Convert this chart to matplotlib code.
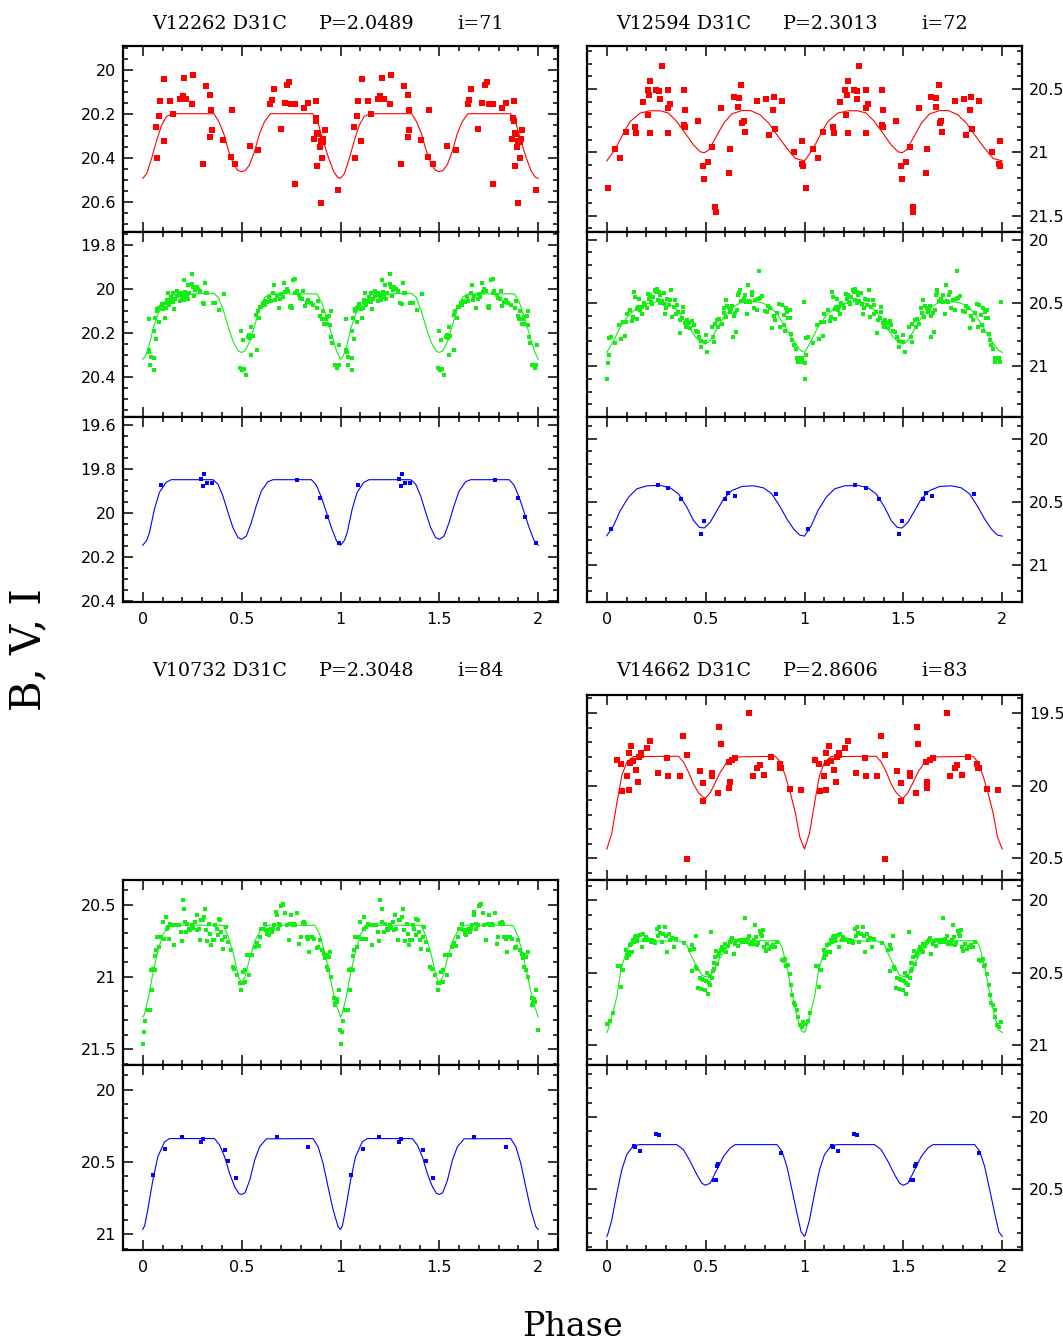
import numpy as np
import matplotlib
matplotlib.use('Agg')
import matplotlib.pyplot as plt
from matplotlib.ticker import MultipleLocator, FuncFormatter

# ---- light curve data: (phase, mag), phase in [0,1) ----
# V12262  P=2.0489  i=71
v12262_b_pts = [(0.067, 20.258), (0.074, 20.40), (0.081, 20.208), (0.087, 20.139), (0.105, 20.324),
                (0.108, 20.041), (0.137, 20.139), (0.153, 20.20), (0.19, 20.129), (0.202, 20.118),
                (0.209, 20.036), (0.218, 20.132), (0.249, 20.153), (0.255, 20.023), (0.307, 20.426),
                (0.321, 20.07), (0.339, 20.115), (0.341, 20.305), (0.345, 20.182), (0.348, 20.274),
                (0.406, 20.317), (0.444, 20.397), (0.449, 20.179), (0.466, 20.426), (0.54, 20.347),
                (0.583, 20.365), (0.644, 20.153), (0.652, 20.136), (0.662, 20.086), (0.697, 20.267),
                (0.718, 20.148), (0.731, 20.068), (0.742, 20.055), (0.749, 20.152), (0.769, 20.153),
                (0.769, 20.518), (0.816, 20.17), (0.838, 20.148), (0.866, 20.314), (0.877, 20.138),
                (0.874, 20.218), (0.876, 20.233), (0.88, 20.285), (0.881, 20.436), (0.888, 20.288),
                (0.895, 20.35), (0.90, 20.606), (0.90, 20.32), (0.908, 20.40), (0.91, 20.326),
                (0.913, 20.313), (0.92, 20.27), (0.987, 20.545)]
v12262_b_curve = [(0, 20.492), (0.02, 20.47), (0.045, 20.40), (0.07, 20.32), (0.095, 20.25), (0.12, 20.21),
                  (0.15, 20.198), (0.36, 20.198), (0.385, 20.235), (0.41, 20.29), (0.435, 20.37),
                  (0.46, 20.43), (0.48, 20.455), (0.5, 20.462), (0.52, 20.455), (0.54, 20.43),
                  (0.565, 20.37), (0.59, 20.29), (0.615, 20.235), (0.645, 20.198), (0.86, 20.198),
                  (0.885, 20.235), (0.91, 20.315), (0.94, 20.40), (0.965, 20.46), (0.985, 20.487),
                  (1.0, 20.492)]
v12262_v_pts = [(0.030, 20.137), (0.030, 20.274), (0.034, 20.286), (0.039, 20.343), (0.040, 20.307),
                (0.056, 20.31), (0.059, 20.365), (0.057, 20.188), (0.067, 20.226), (0.062, 20.131),
                (0.071, 20.097), (0.074, 20.091), (0.081, 20.15), (0.084, 20.085), (0.091, 20.079),
                (0.096, 20.067), (0.104, 20.09), (0.11, 20.131), (0.115, 20.085), (0.118, 20.061),
                (0.121, 20.049), (0.126, 20.017), (0.131, 20.07), (0.138, 20.055), (0.145, 20.036),
                (0.152, 20.058), (0.155, 20.018), (0.16, 20.088), (0.165, 20.043), (0.172, 20.03),
                (0.175, 20.006), (0.182, 20.021), (0.189, 20.055), (0.192, 20.015), (0.199, 20.043),
                (0.202, 20.027), (0.206, 20.049), (0.209, 19.96), (0.214, 20.014), (0.219, 20.036),
                (0.222, 20.024), (0.227, 19.982), (0.231, 20.046), (0.236, 20.018), (0.248, 19.93),
                (0.251, 19.976), (0.256, 19.991), (0.261, 20.03), (0.266, 20.003), (0.273, 19.988),
                (0.281, 19.998), (0.29, 20.006), (0.303, 20.061), (0.31, 20.067), (0.317, 19.97),
                (0.32, 20.015), (0.327, 20.015), (0.354, 20.064), (0.367, 20.064), (0.388, 20.093),
                (0.413, 20.021), (0.499, 20.191), (0.492, 20.359), (0.504, 20.368), (0.512, 20.362),
                (0.509, 20.231), (0.521, 20.39), (0.532, 20.216), (0.539, 20.207), (0.543, 20.222),
                (0.549, 20.17), (0.549, 20.298), (0.556, 20.213), (0.576, 20.277), (0.573, 20.115),
                (0.581, 20.1), (0.59, 20.131), (0.593, 20.079), (0.6, 20.079), (0.61, 20.061),
                (0.617, 20.07), (0.62, 20.052), (0.63, 20.058), (0.64, 20.036), (0.647, 20.055),
                (0.66, 20.018), (0.664, 19.979), (0.671, 20.049), (0.677, 20.03), (0.687, 20.085),
                (0.694, 20.046), (0.701, 20.021), (0.708, 20.036), (0.714, 19.973), (0.719, 20.012),
                (0.728, 20.0), (0.735, 20.009), (0.745, 20.082), (0.751, 20.076), (0.753, 20.085),
                (0.762, 19.96), (0.77, 19.953), (0.772, 20.015), (0.778, 20.006), (0.792, 20.024),
                (0.795, 20.04), (0.805, 20.043), (0.812, 20.006), (0.819, 20.076), (0.829, 20.058),
                (0.837, 20.049), (0.849, 20.064), (0.863, 20.073), (0.88, 20.085), (0.888, 20.052),
                (0.896, 20.122), (0.905, 20.137), (0.91, 20.097), (0.917, 20.158), (0.922, 20.137),
                (0.93, 20.125), (0.93, 20.158), (0.944, 20.122), (0.947, 20.161), (0.953, 20.219),
                (0.95, 20.1), (0.957, 20.243), (0.971, 20.346), (0.974, 20.343), (0.984, 20.359),
                (0.991, 20.343), (0.994, 20.252)]
v12262_v_curve = [(0, 20.318), (0.015, 20.30), (0.03, 20.264), (0.054, 20.173), (0.08, 20.105), (0.12, 20.06),
                  (0.17, 20.036), (0.256, 20.021), (0.357, 20.018), (0.382, 20.036), (0.408, 20.097),
                  (0.433, 20.173), (0.458, 20.24), (0.483, 20.28), (0.5, 20.287), (0.517, 20.28),
                  (0.543, 20.234), (0.568, 20.158), (0.593, 20.082), (0.618, 20.036), (0.644, 20.021),
                  (0.88, 20.021), (0.905, 20.06), (0.93, 20.128), (0.955, 20.204), (0.98, 20.28),
                  (1.0, 20.318)]
v12262_i_pts = [(0.091, 19.875), (0.294, 19.848), (0.307, 19.879), (0.311, 19.822), (0.324, 19.866),
                (0.351, 19.866), (0.779, 19.852), (0.897, 19.93), (0.934, 20.02), (0.991, 20.135)]
v12262_i_curve = [(0, 20.147), (0.02, 20.125), (0.034, 20.089), (0.059, 19.983), (0.084, 19.907),
                  (0.118, 19.861), (0.144, 19.849), (0.355, 19.849), (0.38, 19.869), (0.405, 19.922),
                  (0.431, 19.998), (0.456, 20.067), (0.481, 20.112), (0.5, 20.12), (0.524, 20.105),
                  (0.549, 20.044), (0.574, 19.968), (0.6, 19.9), (0.633, 19.858), (0.659, 19.849),
                  (0.853, 19.849), (0.878, 19.874), (0.904, 19.93), (0.929, 19.998), (0.954, 20.067),
                  (0.98, 20.127), (1.0, 20.147)]

# V12594  P=2.3013  i=72
v12594_b_pts = [(0.008, 21.283), (0.042, 20.977), (0.068, 21.046), (0.096, 20.842), (0.142, 20.797),
                (0.147, 20.85), (0.181, 20.606), (0.206, 20.511), (0.209, 20.707), (0.214, 20.548),
                (0.219, 20.439), (0.221, 20.845), (0.25, 20.505), (0.265, 20.513), (0.267, 20.577),
                (0.278, 20.317), (0.309, 20.845), (0.312, 20.651), (0.312, 20.511), (0.321, 20.619),
                (0.393, 20.511), (0.397, 20.662), (0.393, 20.786), (0.397, 20.80), (0.461, 20.752),
                (0.486, 21.107), (0.493, 21.208), (0.511, 21.076), (0.532, 20.962), (0.549, 21.434),
                (0.55, 21.473), (0.577, 20.651), (0.616, 21.166), (0.621, 20.977), (0.641, 20.564),
                (0.667, 20.572), (0.663, 20.646), (0.68, 20.466), (0.684, 20.765), (0.692, 20.749),
                (0.697, 20.837), (0.759, 20.593), (0.807, 20.58), (0.819, 20.861), (0.839, 20.664),
                (0.844, 20.561), (0.849, 20.813), (0.884, 20.598), (0.949, 21.0), (0.987, 20.914),
                (0.986, 21.092), (0.99, 21.11)]
v12594_b_curve = [(0, 21.068), (0.042, 20.977), (0.084, 20.85), (0.118, 20.757), (0.169, 20.69),
                  (0.219, 20.672), (0.27, 20.672), (0.312, 20.69), (0.354, 20.757), (0.397, 20.85),
                  (0.439, 20.943), (0.473, 20.996), (0.493, 21.004), (0.515, 20.983), (0.549, 20.89),
                  (0.591, 20.77), (0.633, 20.696), (0.684, 20.67), (0.726, 20.67), (0.776, 20.704),
                  (0.819, 20.77), (0.861, 20.863), (0.911, 20.969), (0.954, 21.049), (1.0, 21.068)]
v12594_v_pts = [(0.0, 21.098), (0.005, 20.971), (0.01, 20.912), (0.01, 20.777), (0.02, 20.766),
                (0.042, 20.819), (0.064, 20.67), (0.071, 20.782), (0.084, 20.654), (0.093, 20.761),
                (0.098, 20.654), (0.101, 20.585), (0.118, 20.559), (0.127, 20.644), (0.135, 20.612),
                (0.14, 20.415), (0.142, 20.452), (0.152, 20.548), (0.155, 20.625), (0.16, 20.532),
                (0.165, 20.465), (0.169, 20.559), (0.176, 20.532), (0.179, 20.59), (0.186, 20.50),
                (0.194, 20.516), (0.201, 20.537), (0.211, 20.426), (0.214, 20.465), (0.219, 20.441),
                (0.223, 20.489), (0.23, 20.511), (0.236, 20.452), (0.243, 20.399), (0.248, 20.412),
                (0.253, 20.386), (0.257, 20.479), (0.263, 20.415), (0.267, 20.50), (0.27, 20.439),
                (0.278, 20.484), (0.287, 20.42), (0.29, 20.505), (0.295, 20.585), (0.3, 20.537),
                (0.307, 20.471), (0.314, 20.519), (0.321, 20.479), (0.327, 20.399), (0.331, 20.612),
                (0.338, 20.532), (0.344, 20.479), (0.351, 20.585), (0.354, 20.516), (0.361, 20.572),
                (0.368, 20.739), (0.371, 20.638), (0.38, 20.617), (0.385, 20.532), (0.388, 20.572),
                (0.397, 20.66), (0.402, 20.691), (0.405, 20.638), (0.408, 20.681), (0.415, 20.66),
                (0.422, 20.697), (0.432, 20.644), (0.439, 20.676), (0.449, 20.718), (0.456, 20.729),
                (0.459, 20.729), (0.466, 20.771), (0.478, 20.851), (0.476, 20.798), (0.498, 20.811),
                (0.5, 20.75), (0.506, 20.888), (0.53, 20.691), (0.537, 20.766), (0.543, 20.809),
                (0.545, 20.665), (0.557, 20.633), (0.564, 20.691), (0.57, 20.625), (0.581, 20.665),
                (0.591, 20.543), (0.594, 20.58), (0.601, 20.473), (0.604, 20.612), (0.608, 20.521),
                (0.618, 20.537), (0.624, 20.574), (0.63, 20.548), (0.635, 20.521), (0.638, 20.766),
                (0.641, 20.601), (0.648, 20.58), (0.655, 20.729), (0.658, 20.553), (0.665, 20.436),
                (0.668, 20.42), (0.672, 20.399), (0.678, 20.484), (0.685, 20.484), (0.692, 20.465),
                (0.699, 20.441), (0.702, 20.489), (0.709, 20.59), (0.714, 20.356), (0.719, 20.484),
                (0.726, 20.495), (0.732, 20.441), (0.736, 20.415), (0.743, 20.537), (0.749, 20.479),
                (0.759, 20.553), (0.766, 20.468), (0.771, 20.245), (0.776, 20.457), (0.785, 20.447),
                (0.802, 20.564), (0.81, 20.569), (0.817, 20.527), (0.827, 20.537), (0.835, 20.697),
                (0.844, 20.601), (0.851, 20.638), (0.861, 20.58), (0.871, 20.511), (0.878, 20.686),
                (0.884, 20.516), (0.895, 20.596), (0.898, 20.67), (0.901, 20.718), (0.905, 20.543),
                (0.911, 20.569), (0.918, 20.622), (0.925, 20.559), (0.928, 20.622), (0.932, 20.745),
                (0.938, 20.793), (0.945, 20.83), (0.955, 20.864), (0.962, 20.936), (0.965, 20.968),
                (0.972, 20.931), (0.979, 20.936), (0.986, 20.931), (0.989, 20.968), (0.995, 20.495)]
v12594_v_curve = [(0, 20.891), (0.034, 20.80), (0.068, 20.69), (0.11, 20.60), (0.152, 20.537), (0.203, 20.505),
                  (0.253, 20.489), (0.295, 20.495), (0.338, 20.527), (0.371, 20.585), (0.405, 20.665),
                  (0.447, 20.766), (0.476, 20.811), (0.5, 20.824), (0.523, 20.798), (0.557, 20.705),
                  (0.591, 20.612), (0.633, 20.537), (0.675, 20.50), (0.726, 20.489), (0.776, 20.495),
                  (0.819, 20.519), (0.861, 20.585), (0.903, 20.691), (0.945, 20.798), (0.979, 20.872),
                  (1.0, 20.891)]
v12594_i_pts = [(0.02, 20.714), (0.257, 20.368), (0.311, 20.392), (0.376, 20.474), (0.478, 20.757),
                (0.493, 20.651), (0.597, 20.481), (0.614, 20.431), (0.646, 20.452), (0.857, 20.437)]
v12594_i_curve = [(0, 20.767), (0.034, 20.688), (0.068, 20.569), (0.11, 20.463), (0.152, 20.397),
                  (0.203, 20.373), (0.27, 20.37), (0.321, 20.389), (0.363, 20.437), (0.405, 20.542),
                  (0.439, 20.648), (0.469, 20.701), (0.493, 20.706), (0.523, 20.661), (0.557, 20.569),
                  (0.591, 20.476), (0.633, 20.41), (0.684, 20.378), (0.743, 20.373), (0.793, 20.389),
                  (0.835, 20.437), (0.878, 20.542), (0.911, 20.635), (0.945, 20.714), (0.976, 20.762),
                  (1.0, 20.77)]

# V10732  P=2.3048  i=84  (no B data)
v10732_v_pts = [(0.0, 21.463), (0.007, 21.382), (0.013, 21.306), (0.024, 21.227), (0.037, 21.227),
                (0.047, 21.089), (0.044, 20.955), (0.054, 20.946), (0.062, 20.95), (0.064, 20.853),
                (0.067, 20.816), (0.074, 20.724), (0.084, 20.793), (0.094, 20.724), (0.101, 20.62),
                (0.108, 20.736), (0.118, 20.585), (0.121, 20.666), (0.128, 20.655), (0.131, 20.736),
                (0.138, 20.632), (0.145, 20.643), (0.158, 20.782), (0.165, 20.643), (0.182, 20.643),
                (0.192, 20.689), (0.197, 20.752), (0.202, 20.47), (0.209, 20.528), (0.212, 20.62),
                (0.219, 20.689), (0.226, 20.632), (0.233, 20.666), (0.239, 20.678), (0.248, 20.643),
                (0.256, 20.659), (0.265, 20.62), (0.273, 20.678), (0.276, 20.574), (0.283, 20.666),
                (0.29, 20.747), (0.297, 20.604), (0.303, 20.609), (0.31, 20.585), (0.317, 20.528),
                (0.32, 20.678), (0.327, 20.752), (0.334, 20.632), (0.34, 20.701), (0.347, 20.782),
                (0.354, 20.742), (0.361, 20.747), (0.367, 20.643), (0.374, 20.666), (0.381, 20.712),
                (0.384, 20.597), (0.391, 20.604), (0.398, 20.689), (0.401, 20.747), (0.408, 20.805),
                (0.418, 20.724), (0.421, 20.655), (0.433, 20.759), (0.445, 20.816), (0.455, 20.932),
                (0.462, 20.943), (0.479, 20.99), (0.492, 21.043), (0.495, 21.089), (0.505, 21.043),
                (0.516, 21.036), (0.509, 20.967), (0.519, 20.955), (0.526, 20.851), (0.539, 20.99),
                (0.543, 20.851), (0.553, 20.851), (0.566, 20.793), (0.576, 20.766), (0.586, 20.789),
                (0.593, 20.724), (0.6, 20.666), (0.61, 20.666), (0.617, 20.632), (0.623, 20.678),
                (0.63, 20.701), (0.637, 20.712), (0.64, 20.678), (0.647, 20.666), (0.654, 20.689),
                (0.66, 20.666), (0.664, 20.643), (0.674, 20.551), (0.677, 20.574), (0.684, 20.666),
                (0.687, 20.632), (0.694, 20.643), (0.701, 20.512), (0.708, 20.5), (0.711, 20.493),
                (0.721, 20.555), (0.728, 20.643), (0.738, 20.747), (0.745, 20.632), (0.751, 20.574),
                (0.758, 20.643), (0.765, 20.632), (0.772, 20.643), (0.782, 20.555), (0.789, 20.77),
                (0.799, 20.724), (0.809, 20.627), (0.816, 20.62), (0.822, 20.632), (0.829, 20.724),
                (0.836, 20.736), (0.843, 20.828), (0.846, 20.724), (0.856, 20.724), (0.866, 20.736),
                (0.88, 20.798), (0.888, 20.793), (0.896, 20.747), (0.906, 20.816), (0.917, 20.84),
                (0.923, 20.867), (0.93, 20.851), (0.94, 20.863), (0.947, 20.828), (0.93, 20.932),
                (0.937, 20.955), (0.95, 21.0), (0.968, 21.144), (0.97, 21.197), (0.974, 21.181),
                (0.98, 21.151), (0.984, 21.174), (0.991, 21.094), (0.997, 21.366)]
v10732_v_curve = [(0, 21.278), (0.008, 21.26), (0.029, 21.14), (0.054, 20.955), (0.079, 20.805), (0.104, 20.70),
                  (0.13, 20.655), (0.163, 20.643), (0.408, 20.643), (0.433, 20.724), (0.458, 20.84),
                  (0.484, 21.0), (0.5, 21.043), (0.517, 21.0), (0.543, 20.863), (0.568, 20.747),
                  (0.601, 20.666), (0.635, 20.643), (0.871, 20.643), (0.896, 20.712), (0.922, 20.84),
                  (0.947, 21.0), (0.972, 21.163), (1.0, 21.278)]
v10732_i_pts = [(0.052, 20.59), (0.113, 20.408), (0.196, 20.327), (0.294, 20.362), (0.307, 20.343),
                (0.417, 20.419), (0.432, 20.491), (0.47, 20.613), (0.677, 20.325), (0.836, 20.399)]
v10732_i_curve = [(0, 20.968), (0.01, 20.94), (0.025, 20.834), (0.051, 20.627), (0.076, 20.465), (0.11, 20.362),
                  (0.135, 20.339), (0.363, 20.339), (0.389, 20.385), (0.414, 20.465), (0.439, 20.581),
                  (0.465, 20.673), (0.486, 20.719), (0.5, 20.726), (0.517, 20.714), (0.541, 20.627),
                  (0.566, 20.488), (0.591, 20.396), (0.625, 20.341), (0.861, 20.339), (0.887, 20.396),
                  (0.912, 20.512), (0.937, 20.673), (0.963, 20.834), (0.988, 20.949), (1.0, 20.968)]

# V14662  P=2.8606  i=83
v14662_b_pts = [(0.054, 19.822), (0.074, 19.852), (0.078, 20.038), (0.101, 19.932), (0.11, 20.031),
                (0.11, 19.775), (0.115, 19.843), (0.123, 19.725), (0.135, 19.829), (0.15, 19.892),
                (0.16, 19.972), (0.165, 19.803), (0.174, 19.775), (0.175, 19.791), (0.204, 19.739),
                (0.221, 19.69), (0.258, 19.915), (0.307, 19.808), (0.312, 19.937), (0.368, 19.937),
                (0.386, 19.655), (0.407, 19.786), (0.408, 19.791), (0.408, 20.507), (0.469, 19.901),
                (0.489, 19.979), (0.489, 20.103), (0.532, 19.913), (0.532, 19.937), (0.564, 20.054),
                (0.57, 19.599), (0.576, 19.711), (0.618, 20.014), (0.621, 19.974), (0.616, 19.838),
                (0.633, 19.826), (0.65, 19.808), (0.721, 19.502), (0.738, 19.937), (0.761, 19.878),
                (0.773, 19.859), (0.797, 19.925), (0.829, 19.803), (0.874, 19.85), (0.877, 19.878),
                (0.883, 19.88), (0.925, 20.021), (0.981, 20.031)]
v14662_b_curve = [(0, 20.437), (0.025, 20.33), (0.051, 20.12), (0.076, 19.93), (0.101, 19.84), (0.135, 19.8),
                  (0.363, 19.798), (0.388, 19.838), (0.414, 19.908), (0.439, 19.991), (0.464, 20.049),
                  (0.489, 20.082), (0.5, 20.085), (0.523, 20.049), (0.549, 19.979), (0.574, 19.908),
                  (0.608, 19.838), (0.641, 19.803), (0.852, 19.798), (0.878, 19.838), (0.903, 19.932),
                  (0.928, 20.049), (0.954, 20.19), (0.976, 20.354), (1.0, 20.437)]
v14662_v_pts = [(0.003, 20.859), (0.017, 20.834), (0.03, 20.779), (0.057, 20.456), (0.068, 20.454),
                (0.073, 20.601), (0.078, 20.484), (0.084, 20.484), (0.098, 20.346), (0.101, 20.403),
                (0.105, 20.373), (0.11, 20.382), (0.115, 20.311), (0.118, 20.357), (0.122, 20.30),
                (0.128, 20.359), (0.132, 20.272), (0.138, 20.288), (0.142, 20.253), (0.149, 20.244),
                (0.152, 20.281), (0.155, 20.265), (0.16, 20.249), (0.169, 20.242), (0.176, 20.327),
                (0.182, 20.235), (0.189, 20.276), (0.196, 20.253), (0.203, 20.265), (0.209, 20.276),
                (0.216, 20.272), (0.223, 20.286), (0.23, 20.272), (0.24, 20.281), (0.246, 20.295),
                (0.253, 20.196), (0.26, 20.244), (0.263, 20.184), (0.27, 20.23), (0.277, 20.29),
                (0.284, 20.235), (0.297, 20.184), (0.3, 20.249), (0.307, 20.355), (0.314, 20.235),
                (0.321, 20.276), (0.331, 20.258), (0.341, 20.327), (0.351, 20.265), (0.392, 20.295),
                (0.422, 20.346), (0.432, 20.313), (0.439, 20.336), (0.449, 20.244), (0.43, 20.488),
                (0.452, 20.461), (0.456, 20.475), (0.462, 20.604), (0.469, 20.535), (0.476, 20.613),
                (0.483, 20.544), (0.489, 20.553), (0.498, 20.622), (0.503, 20.558), (0.506, 20.502),
                (0.511, 20.65), (0.515, 20.576), (0.52, 20.525), (0.523, 20.588), (0.527, 20.219),
                (0.532, 20.535), (0.537, 20.493), (0.54, 20.433), (0.543, 20.475), (0.549, 20.396),
                (0.554, 20.35), (0.557, 20.442), (0.564, 20.387), (0.57, 20.364), (0.577, 20.346),
                (0.584, 20.323), (0.591, 20.336), (0.597, 20.30), (0.601, 20.357), (0.611, 20.318),
                (0.621, 20.29), (0.628, 20.276), (0.635, 20.258), (0.641, 20.369), (0.648, 20.304),
                (0.655, 20.281), (0.665, 20.318), (0.672, 20.272), (0.678, 20.281), (0.685, 20.29),
                (0.692, 20.276), (0.699, 20.122), (0.705, 20.286), (0.712, 20.267), (0.719, 20.249),
                (0.726, 20.304), (0.732, 20.286), (0.739, 20.30), (0.746, 20.272), (0.749, 20.173),
                (0.756, 20.253), (0.76, 20.311), (0.766, 20.295), (0.776, 20.212), (0.78, 20.235),
                (0.786, 20.249), (0.79, 20.207), (0.797, 20.323), (0.803, 20.35), (0.81, 20.304),
                (0.82, 20.336), (0.83, 20.327), (0.84, 20.313), (0.851, 20.323), (0.861, 20.288),
                (0.884, 20.415), (0.895, 20.419), (0.901, 20.41), (0.908, 20.452), (0.915, 20.449),
                (0.925, 20.512), (0.932, 20.588), (0.938, 20.659), (0.945, 20.71), (0.952, 20.728),
                (0.962, 20.76), (0.965, 20.806), (0.976, 20.866), (0.986, 20.876), (0.992, 20.843)]
v14662_v_curve = [(0, 20.915), (0.005, 20.903), (0.025, 20.806), (0.051, 20.668), (0.071, 20.484),
                  (0.101, 20.346), (0.135, 20.288), (0.177, 20.281), (0.371, 20.283), (0.405, 20.311),
                  (0.43, 20.392), (0.456, 20.461), (0.481, 20.518), (0.503, 20.53), (0.532, 20.507),
                  (0.557, 20.438), (0.591, 20.357), (0.633, 20.288), (0.658, 20.281), (0.869, 20.281),
                  (0.886, 20.323), (0.911, 20.461), (0.937, 20.645), (0.962, 20.806), (0.983, 20.899),
                  (1.0, 20.915)]
v14662_i_pts = [(0.14, 20.202), (0.143, 20.207), (0.169, 20.237), (0.25, 20.116), (0.263, 20.123),
                (0.54, 20.435), (0.55, 20.435), (0.557, 20.337), (0.562, 20.323), (0.883, 20.251)]
v14662_i_curve = [(0, 20.826), (0.005, 20.812), (0.025, 20.714), (0.051, 20.528), (0.076, 20.365),
                  (0.101, 20.26), (0.135, 20.198), (0.169, 20.191), (0.354, 20.191), (0.388, 20.226),
                  (0.422, 20.307), (0.456, 20.40), (0.481, 20.458), (0.498, 20.472), (0.523, 20.458),
                  (0.557, 20.365), (0.591, 20.272), (0.624, 20.214), (0.65, 20.191), (0.861, 20.191),
                  (0.886, 20.237), (0.911, 20.342), (0.937, 20.505), (0.962, 20.667), (0.983, 20.795),
                  (1.0, 20.826)]

titles = [("V12262 D31C", "P=2.0489", "i=71"), ("V12594 D31C", "P=2.3013", "i=72"),
          ("V10732 D31C", "P=2.3048", "i=84"), ("V14662 D31C", "P=2.8606", "i=83")]

RED, GREEN, BLUE = '#ff0000', '#10f010', '#0000ff'

W, H = 1063, 1344
fig = plt.figure(figsize=(W / 100, H / 100), dpi=100)


def px_axes(x0, y0, x1, y1):
    # axes from pixel box (top-left origin)
    return fig.add_axes([x0 / W, 1 - y1 / H, (x1 - x0) / W, (y1 - y0) / H])


def fmt(v, pos):
    return '%g' % round(v, 3)


def draw_panel(box, pts, curve, color, ms, ylim, major, minor, side, xlabels):
    ax = px_axes(*box)
    ph, mag = np.array(pts).T
    ax.plot(np.concatenate([ph, ph + 1]), np.concatenate([mag, mag]), 's',
            color=color, ms=ms, mew=0, zorder=3)
    cph, cmag = np.array(curve).T
    ax.plot(np.concatenate([cph, cph[1:] + 1]), np.concatenate([cmag, cmag[1:]]),
            '-', color=color, lw=0.8, zorder=2)
    ax.set_xlim(-0.1, 2.1)
    ax.set_ylim(*ylim)
    ax.xaxis.set_major_locator(MultipleLocator(0.5))
    ax.xaxis.set_minor_locator(MultipleLocator(0.1))
    ax.yaxis.set_major_locator(MultipleLocator(major))
    ax.yaxis.set_minor_locator(MultipleLocator(minor))
    ax.xaxis.set_major_formatter(FuncFormatter(fmt))
    ax.yaxis.set_major_formatter(FuncFormatter(fmt))
    ax.tick_params(which='both', direction='in', top=True, bottom=True, left=True, right=True,
                   width=1.1, labelsize=11.5)
    ax.tick_params(which='major', length=7)
    ax.tick_params(which='minor', length=3.5)
    ax.tick_params(axis='y', labelleft=(side == 'left'), labelright=(side == 'right'), pad=5)
    ax.tick_params(axis='x', labelbottom=xlabels, pad=7)
    for sp in ax.spines.values():
        sp.set_linewidth(1.6)
    return ax


LEFT, RIGHT = (123, 558), (587, 1022)
TOP_ROWS = [(46, 232), (232, 417), (417, 602)]
BOT_ROWS = [(695, 880), (880, 1065), (1065, 1250)]


def box(col, row):
    return (col[0], row[0], col[1], row[1])


# V12262
draw_panel(box(LEFT, TOP_ROWS[0]), v12262_b_pts, v12262_b_curve, RED, 4.0, (20.736, 19.89), 0.2, 0.05, 'left', False)
draw_panel(box(LEFT, TOP_ROWS[1]), v12262_v_pts, v12262_v_curve, GREEN, 3.3, (20.58, 19.74), 0.2, 0.05, 'left', False)
draw_panel(box(LEFT, TOP_ROWS[2]), v12262_i_pts, v12262_i_curve, BLUE, 3.0, (20.405, 19.564), 0.2, 0.05, 'left', True)
# V12594
draw_panel(box(RIGHT, TOP_ROWS[0]), v12594_b_pts, v12594_b_curve, RED, 4.0, (21.63, 20.16), 0.5, 0.1, 'right', False)
draw_panel(box(RIGHT, TOP_ROWS[1]), v12594_v_pts, v12594_v_curve, GREEN, 3.3, (21.40, 19.94), 0.5, 0.1, 'right', False)
draw_panel(box(RIGHT, TOP_ROWS[2]), v12594_i_pts, v12594_i_curve, BLUE, 3.0, (21.29, 19.83), 0.5, 0.1, 'right', True)
# V10732
draw_panel(box(LEFT, BOT_ROWS[1]), v10732_v_pts, v10732_v_curve, GREEN, 3.3, (21.61, 20.33), 0.5, 0.1, 'left', False)
draw_panel(box(LEFT, BOT_ROWS[2]), v10732_i_pts, v10732_i_curve, BLUE, 3.0, (21.11, 19.83), 0.5, 0.1, 'left', True)
# V14662
draw_panel(box(RIGHT, BOT_ROWS[0]), v14662_b_pts, v14662_b_curve, RED, 4.0, (20.65, 19.376), 0.5, 0.1, 'right', False)
draw_panel(box(RIGHT, BOT_ROWS[1]), v14662_v_pts, v14662_v_curve, GREEN, 3.3, (21.14, 19.86), 0.5, 0.1, 'right', False)
draw_panel(box(RIGHT, BOT_ROWS[2]), v14662_i_pts, v14662_i_curve, BLUE, 3.0, (20.92, 19.64), 0.5, 0.1, 'right', True)

# star titles
title_pos = [(152, 29), (616, 29), (152, 676), (616, 676)]
for (name, per, inc), (tx, ty) in zip(titles, title_pos):
    for txt, dx in zip((name, per, inc), (0, 167, 305)):
        fig.text((tx + dx) / W, 1 - ty / H, txt, fontsize=13.8, family='DejaVu Serif',
                 ha='left', va='baseline')

fig.text(28 / W, 1 - 650 / H, 'B, V, I', rotation=90, fontsize=30, family='DejaVu Serif',
         ha='center', va='center')
fig.text(572 / W, 1 - 1336 / H, 'Phase', fontsize=24, family='DejaVu Serif',
         ha='center', va='baseline')

fig.savefig('out.png', dpi=100)
